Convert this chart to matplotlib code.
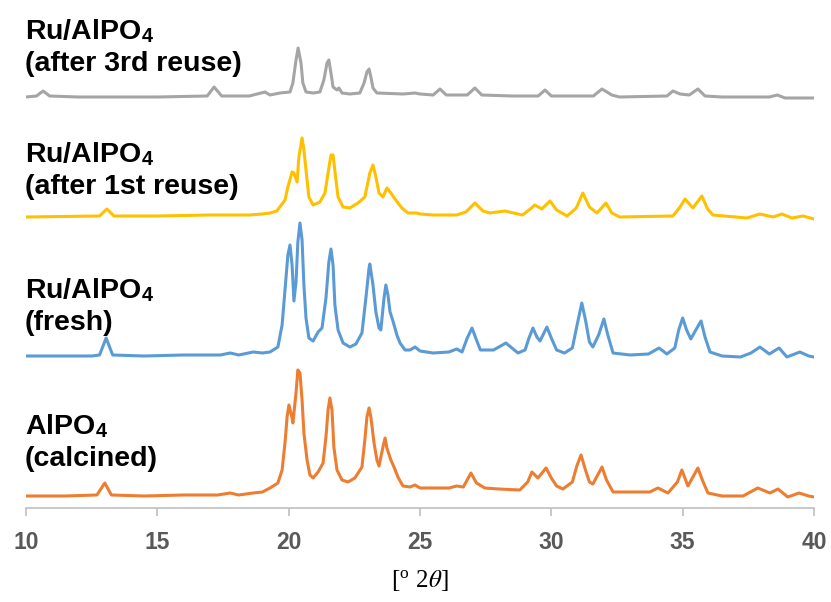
import matplotlib
matplotlib.use("Agg")
import matplotlib.pyplot as plt

# XRD patterns (2theta in degrees, intensity in a.u. above each pattern's own baseline)
calcined_2t = [10.0, 11.5, 12.7, 13.0, 13.25, 14.5, 16.0, 17.3, 17.77, 18.1, 18.65, 19.0,
               19.29, 19.59, 19.75, 19.86, 19.94, 20.01, 20.13, 20.16, 20.28, 20.35, 20.43,
               20.51, 20.58, 20.70, 20.81, 20.93, 21.12, 21.31, 21.42, 21.50, 21.57, 21.65,
               21.72, 21.84, 22.03, 22.26, 22.52, 22.79, 22.90, 22.98, 23.06, 23.13, 23.25,
               23.36, 23.44, 23.59, 23.67, 23.74, 23.89, 24.01, 24.16, 24.35, 24.62, 24.81,
               25.0, 25.5, 26.1, 26.4, 26.65, 26.94, 27.15, 27.47, 28.0, 28.8, 29.1, 29.26,
               29.49, 29.8, 30.0, 30.2, 30.44, 30.8, 30.97, 31.13, 31.3, 31.45, 31.58, 31.93,
               32.1, 32.35, 33.0, 33.75, 34.06, 34.44, 34.8, 34.97, 35.2, 35.58, 35.75, 35.96,
               36.5, 37.3, 37.86, 38.32, 38.63, 39.0, 39.43, 39.8, 40.0]
calcined_int = [1, 1, 2, 14, 2, 1, 2, 2, 4, 2, 4, 5,
                9, 14, 27, 54, 80, 92, 79, 74, 104, 127, 124,
                97, 64, 37, 22, 19, 25, 34, 60, 87, 99, 87,
                50, 27, 17, 15, 19, 30, 57, 80, 89, 80, 54,
                37, 31, 50, 59, 49, 37, 30, 20, 11, 10, 12,
                9, 9, 9, 11, 10, 24, 14, 9, 8, 7, 15, 25,
                19, 29, 19, 11, 8, 15, 31, 42, 27, 15, 13, 30,
                17, 5, 5, 5, 9, 4, 15, 27, 11, 29, 17, 4,
                1, 1, 9, 4, 8, 0, 4, 1, 0]

fresh_2t = [10.0, 11.0, 12.5, 12.8, 13.05, 13.3, 14.5, 16.0, 17.4, 17.77, 18.1, 18.65, 19.0,
            19.29, 19.59, 19.75, 19.86, 19.97, 20.05, 20.13, 20.20, 20.28, 20.35, 20.43,
            20.51, 20.58, 20.66, 20.77, 20.93, 21.12, 21.27, 21.42, 21.53, 21.61, 21.69,
            21.76, 21.88, 22.07, 22.33, 22.56, 22.79, 22.94, 23.06, 23.09, 23.21, 23.32,
            23.44, 23.51, 23.63, 23.70, 23.78, 23.86, 23.97, 24.12, 24.24, 24.43, 24.62,
            24.81, 25.0, 25.5, 26.1, 26.4, 26.6, 26.8, 26.98, 27.15, 27.3, 27.8, 28.27,
            28.73, 29.0, 29.15, 29.3, 29.45, 29.57, 29.83, 30.0, 30.2, 30.5, 30.8, 30.98,
            31.16, 31.3, 31.45, 31.58, 31.8, 32.0, 32.15, 32.35, 33.0, 33.7, 34.1, 34.4,
            34.7, 34.85, 35.0, 35.15, 35.31, 35.5, 35.7, 35.85, 36.04, 36.5, 37.2, 37.6,
            37.94, 38.3, 38.67, 38.97, 39.46, 39.8, 40.0]
fresh_int = [1, 1, 1, 2, 19, 2, 1, 2, 2, 4, 2, 5, 4,
             5, 10, 32, 67, 102, 112, 92, 56, 75, 115, 134,
             117, 72, 39, 19, 16, 25, 29, 59, 95, 108, 92,
             52, 27, 14, 10, 13, 24, 59, 89, 93, 72, 45,
             29, 27, 59, 72, 62, 45, 36, 22, 14, 7, 7,
             10, 6, 4, 5, 8, 5, 19, 29, 17, 7, 7, 14,
             4, 7, 19, 29, 20, 16, 30, 19, 7, 4, 9, 32,
             54, 37, 15, 10, 22, 38, 22, 4, 2, 3, 9, 3,
             9, 27, 39, 27, 18, 27, 36, 20, 5, 1, 0, 4,
             10, 3, 9, 0, 5, 1, 0]

reuse1_2t = [10.0, 12.8, 13.08, 13.35, 15.0, 17.0, 18.5, 19.0, 19.29, 19.55, 19.86, 19.97,
             20.13, 20.20, 20.32, 20.39, 20.51, 20.58, 20.70, 20.77, 20.93, 21.19, 21.38,
             21.50, 21.61, 21.69, 21.80, 21.88, 22.07, 22.33, 22.64, 22.90, 23.09, 23.21,
             23.32, 23.44, 23.59, 23.74, 23.89, 24.05, 24.31, 24.54, 24.88, 25.0, 25.5,
             26.4, 26.75, 27.09, 27.4, 27.66, 28.23, 28.9, 29.2, 29.37, 29.64, 29.95, 30.2,
             30.6, 30.95, 31.2, 31.45, 31.74, 32.08, 32.3, 32.6, 34.63, 34.9, 35.09, 35.39,
             35.73, 35.95, 36.15, 37.45, 37.94, 38.44, 38.78, 39.16, 39.58, 40.0]
reuse1_int = [1, 2, 9, 2, 2, 3, 3, 4, 5, 7, 18, 31,
              46, 45, 36, 61, 80, 68, 38, 21, 13, 16, 25,
              45, 63, 63, 38, 21, 11, 10, 15, 21, 45, 53,
              41, 25, 21, 30, 25, 19, 10, 5, 5, 4, 3,
              3, 6, 15, 7, 5, 7, 3, 9, 13, 9, 17, 8,
              2, 10, 25, 11, 5, 15, 5, 1, 2, 11, 19, 10,
              22, 9, 3, 0, 4, 1, 4, 0, 2, -1]

reuse3_2t = [10.0, 10.4, 10.65, 10.9, 12.0, 15.0, 16.9, 17.16, 17.45, 18.5, 19.1, 19.29,
             19.67, 20.05, 20.16, 20.28, 20.36, 20.47, 20.54, 20.66, 20.93, 21.19, 21.34,
             21.46, 21.53, 21.61, 21.69, 21.84, 21.91, 22.03, 22.33, 22.71, 22.87, 22.98,
             23.06, 23.13, 23.21, 23.36, 24.35, 24.81, 25.0, 25.5, 25.76, 26.0, 26.8, 27.09,
             27.35, 28.5, 29.5, 29.76, 30.0, 31.6, 31.93, 32.3, 32.6, 34.4, 34.63, 34.9,
             35.25, 35.58, 35.85, 36.5, 38.3, 38.6, 38.9, 40.0]
reuse3_int = [1, 2, 7, 2, 1, 1, 2, 11, 2, 2, 6, 3,
              5, 6, 15, 38, 50, 35, 15, 6, 5, 6, 18,
              35, 38, 25, 11, 8, 10, 5, 4, 5, 15, 26,
              29, 21, 10, 5, 4, 5, 4, 3, 9, 3, 3, 10,
              3, 2, 2, 8, 2, 2, 9, 3, 1, 2, 7, 4,
              3, 9, 2, 1, 1, 3, 0, 0]

patterns = [
    ("AlPO$_\\mathregular{4}$\n(calcined)", calcined_2t, calcined_int, "#ED7D31"),
    ("Ru/AlPO$_\\mathregular{4}$\n(fresh)", fresh_2t, fresh_int, "#5B9BD5"),
    ("Ru/AlPO$_\\mathregular{4}$\n(after 1st reuse)", reuse1_2t, reuse1_int, "#FFC000"),
    ("Ru/AlPO$_\\mathregular{4}$\n(after 3rd reuse)", reuse3_2t, reuse3_int, "#A5A5A5"),
]
offsets = [11, 151, 290, 410]
label_y = [0.314, 0.540, 0.7657, 0.970]

plt.rcParams["mathtext.fontset"] = "stix"

fig = plt.figure(figsize=(8.31, 6.02), dpi=100)
ax = fig.add_axes([26 / 831, 94 / 602, 788 / 831, 508 / 602])

for (name, tt, inten, col), off, ly in zip(patterns, offsets, label_y):
    ax.plot(tt, [v + off for v in inten], color=col, lw=2.2,
            solid_joinstyle="round", solid_capstyle="round")
    fig.text(25 / 831, ly, name, ha="left", va="top", fontsize=20.5,
             fontweight="bold", family="Liberation Sans", linespacing=1.25)

ax.set_xlim(10, 40)
ax.set_ylim(0, 508)
ax.set_xticks(range(10, 41, 5))
ax.set_yticks([])
for s in ["top", "right", "left"]:
    ax.spines[s].set_visible(False)
ax.spines["bottom"].set_color("#BFBFBF")
ax.spines["bottom"].set_linewidth(1.2)
ax.tick_params(axis="x", direction="out", length=6, width=1.2, color="#BFBFBF",
               labelsize=16.5, labelcolor="#595959", pad=10.5)
for lab in ax.get_xticklabels():
    lab.set_fontweight("bold")
    lab.set_family("Liberation Sans")

ax.set_xlabel("[$^{\\mathregular{o}}$ 2$\\theta$]", family="Liberation Serif",
              fontsize=18, labelpad=11)

fig.savefig("out.png", dpi=100)
